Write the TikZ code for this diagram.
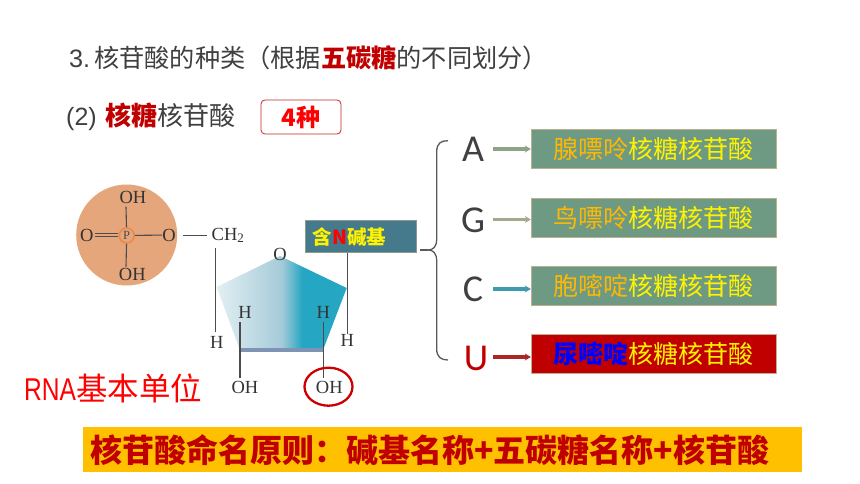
\documentclass[tikz,border=0pt]{standalone}
\usepackage{fontspec}
\setmainfont{Liberation Serif}
\newfontfamily\cjk{Noto Sans CJK SC}
\newfontfamily\latn{Carlito}
\newfontfamily\lsans{Liberation Sans}
\newfontfamily\lnarrow[FakeStretch=0.78]{Liberation Sans}
\usetikzlibrary{arrows.meta,shapes.geometric}
\definecolor{txtgray}{HTML}{404040}
\definecolor{dkred}{HTML}{C00000}
\definecolor{boxgreen}{HTML}{6E9A84}
\definecolor{boxedge}{HTML}{BDB08E}
\definecolor{basebox}{HTML}{457A8C}
\definecolor{orangeT}{HTML}{FFB800}
\definecolor{phosph}{HTML}{E5A67C}
\definecolor{phospc}{HTML}{E98B4F}
\definecolor{sugarA}{HTML}{E2EFF3}
\definecolor{sugarB}{HTML}{A5CBD8}
\definecolor{sugarC}{HTML}{25A6C2}
\definecolor{sugarbase}{HTML}{7F93B5}
\definecolor{rulefill}{HTML}{FFC000}
\pgfdeclarehorizontalshading{sugar}{100bp}{color(0bp)=(sugarA);color(25bp)=(sugarA);color(50bp)=(sugarB);color(58bp)=(sugarC);color(100bp)=(sugarC)}
\tikzset{
  x=1pt,y=-1pt,
  chem/.style={inner sep=0pt,font=\fontsize{18.5}{18.5}\selectfont,text=black!80},
  bond/.style={draw=black!70,line width=1.1pt},
  namebox/.style={draw=boxedge,line width=0.9pt,fill=boxgreen,minimum width=245pt,minimum height=38.5pt,inner sep=0pt,font=\cjk\fontsize{25}{25}\selectfont,text=yellow},
  basel/.style={inner sep=0pt,font=\latn\fontsize{38}{38}\selectfont,text=txtgray},
  arr/.style={-{Stealth[length=6pt,width=7pt]},line width=3.2pt},
  heading/.style={inner sep=0pt,anchor=west,text=txtgray,font=\cjk\fontsize{25.2}{25}\selectfont},
}
\begin{document}
\begin{tikzpicture}
\useasboundingbox (0,0) rectangle (860,484);
\fill[white] (0,0) rectangle (860,484);
% headings
\node[heading] (title) at (69,58) {{\lsans 3.}\hspace{4pt}核苷酸的种类（根据{\bfseries\color{dkred}五碳糖}的不同划分）};
\node[heading,font=\cjk\fontsize{26}{26}\selectfont] (sub) at (66,117) {{\lsans\fontsize{25}{25}\selectfont (2)}\hspace{9pt}{\bfseries\color{dkred}核糖}核苷酸};
\node[draw=dkred!85,fill=white,rounded corners=4pt,line width=0.8pt,minimum width=80pt,minimum height=34pt,inner sep=0pt,font=\cjk\bfseries\fontsize{24}{25}\selectfont,text=red] (count) at (301,117) {4种};
% phosphate
\node[circle,fill=phosph,minimum size=101pt,inner sep=0pt] (phos) at (126.7,235) {};
\node[circle,fill=phosph,draw=phospc,line width=1.8pt,minimum size=15pt,inner sep=0pt,font=\fontsize{12.5}{12.5}\selectfont,text=black!70] (P) at (126.7,235.5) {P};
\node[chem] (ohtop) at (133,197.3) {OH};
\node[chem] (ohbot) at (132.3,274.3) {OH};
\node[chem] (oleft) at (86.7,235) {O};
\node[chem] (oright) at (169,235) {O};
\node[chem,anchor=west] (ch2) at (211.5,235.5) {CH\textsubscript{2}};
\draw[bond] (95,233.7) -- (P.west |- 0,233.7) (95,236.3) -- (P.west |- 0,236.3);
\draw[bond] (P) -- (oright);
\draw[bond] (P) -- (126,206.7);
\draw[bond] (P) -- (126,266.7);
\draw[bond,shorten >=5pt] (183,235.5) -- (ch2.west);
% sugar ring
\coordinate (rt) at (280,256);
\coordinate (rr) at (346.7,288);
\coordinate (rbr) at (323,350);
\coordinate (rbl) at (240,350);
\coordinate (rl) at (216.7,287);
\shade[shading=sugar] (rt) -- (rr) -- (rbr) -- (rbl) -- (rl) -- cycle;
\draw[draw=sugarbase,line width=3.5pt] (rbl) -- (rbr);
\node[chem] (oring) at (280,254) {O};
\node[chem] (hch) at (216.7,342) {H};
\node[chem] (hl) at (245,312.7) {H};
\node[chem] (hr) at (323.3,312.7) {H};
\node[chem] (hb) at (347.3,340) {H};
\node[chem] (ohl) at (245,387) {OH};
\node[chem] (ohr) at (329.3,387) {OH};
\draw[bond,line width=1.4pt] (215.2,248) -- (215.2,331.5);
\draw[bond,line width=1.4pt] (240,321.5) -- (240,378);
\draw[bond,line width=1.4pt] (323.3,321.5) -- (323.3,378);
\draw[draw=red!80!black,line width=2.3pt] (328.5,386.7) ellipse [x radius=24, y radius=19];
% base box
\node[fill=basebox,draw=boxedge!60!basebox,line width=0.7pt,minimum width=111pt,minimum height=32pt,inner sep=0pt,font=\cjk\bfseries\fontsize{19.5}{19.5}\selectfont,text=yellow] (basebx) at (361,236.7) {\hspace{-23pt}含{\color{red}N}碱基};
\draw[bond,line width=1.4pt] (basebx.south -| hb) -- (hb.north);
% brace
\coordinate (btop) at (448,140.7);
\coordinate (bbot) at (448,360);
\draw[draw=black!65,line width=1.3pt] (btop) .. controls (441,140.7) and (436.7,143) .. (436.7,152) -- (436.7,239) .. controls (436.7,247) and (433,250) .. (428,250) .. controls (433,250) and (436.7,253) .. (436.7,261) -- (436.7,349) .. controls (436.7,357) and (441,360) .. (bbot);
\draw[draw=black!65,line width=1.3pt] (420,250) -- (428,250);
% bases
\node[basel] (A) at (473,149) {A};
\node[basel] (G) at (473,220) {G};
\node[basel] (C) at (473,289.5) {C};
\node[basel,text=dkred] (U) at (476,358) {U};
% name boxes
\node[namebox] (nA) at (653.8,148.8) {{\color{orangeT}腺嘌呤}核糖核苷酸};
\node[namebox] (nG) at (653.8,218) {{\color{orangeT}鸟嘌呤}核糖核苷酸};
\node[namebox] (nC) at (653.8,285.8) {{\color{orangeT}胞嘧啶}核糖核苷酸};
\node[namebox,fill=dkred] (nU) at (653.8,353.8) {{\color{blue}\bfseries 尿嘧啶}核糖核苷酸};
\draw[arr,draw=boxgreen!60!boxedge] (493,149) -- (nA.west |- 0,149);
\draw[arr,draw=boxedge!70!boxgreen] (493,219.5) -- (nG.west |- 0,219.5);
\draw[arr,draw=sugarC!70!gray] (493,289) -- (nC.west |- 0,289);
\draw[arr,draw=dkred!70!gray] (493,357) -- (nU.west |- 0,357);
% bottom labels
\node[inner sep=0pt,anchor=west,text=red,font=\cjk\fontsize{31.5}{31.5}\selectfont] (rna) at (24,388) {{\lnarrow RNA}基本单位};
\node[fill=rulefill,minimum width=719pt,minimum height=45pt,inner sep=0pt] (rule) at (442.5,449.5) {};
\node[inner sep=0pt,anchor=west,font=\cjk\bfseries\fontsize{32}{32}\selectfont,text=dkred] (ruletext) at (90,450) {核苷酸命名原则：碱基名称+五碳糖名称+核苷酸};
\end{tikzpicture}
\end{document}
